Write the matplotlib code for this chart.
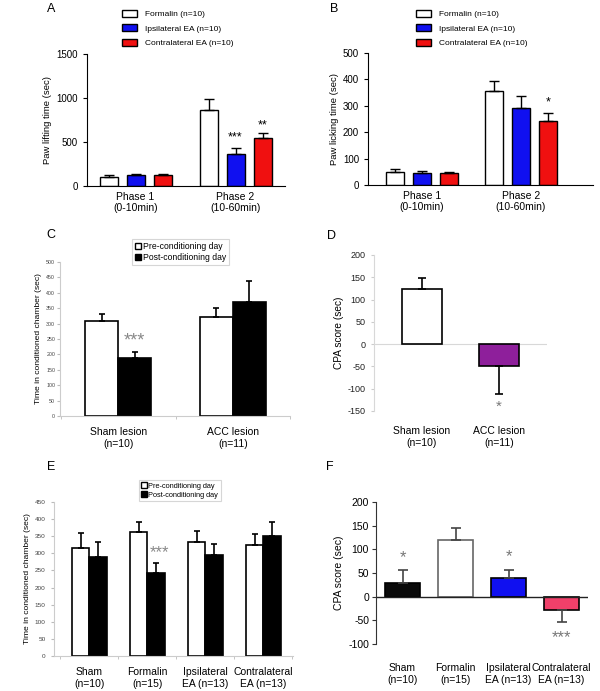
import numpy as np
import matplotlib.pyplot as plt
from matplotlib.lines import Line2D

plt.rcParams['font.family'] = ['Liberation Sans', 'DejaVu Sans']
plt.rcParams['axes.unicode_minus'] = False

# --- data ---
phases = ['Phase 1\n(0-10min)', 'Phase 2\n(10-60min)']
ab_groups = ['Formalin (n=10)', 'Ipsilateral EA (n=10)', 'Contralateral EA (n=10)']
ab_colors = ['white', '#1010f0', '#f01010']

lift_mean = [[105, 863], [130, 363], [128, 542]]
lift_err = [[15, 122], [12, 65], [12, 64]]
lift_stars = [(1, 1, '***', 557), (1, 2, '**', 693)]   # (phase, group, text, y)

lick_mean = [[50, 355], [47, 292], [44, 242]]
lick_err = [[9, 38], [6, 46], [7, 29]]
lick_stars = [(1, 2, '*', 311)]

cond_legend = ['Pre-conditioning day', 'Post-conditioning day']

c_groups = ['Sham lesion\n(n=10)', 'ACC lesion\n(n=11)']
c_pre = [307, 320]
c_pre_err = [25, 32]
c_post = [188, 370]
c_post_err = [19, 67]

d_score = [123, -48]
d_err = [25, 63]
d_colors = ['white', '#8e1f9b']

e_groups = ['Sham\n(n=10)', 'Formalin\n(n=15)', 'Ipsilateral\nEA (n=13)', 'Contralateral\nEA (n=13)']
e_pre = [317, 362, 332, 323]
e_pre_err = [41, 31, 33, 34]
e_post = [289, 243, 296, 350]
e_post_err = [44, 30, 32, 43]

f_score = [28, 120, 39, -28]
f_err = [29, 26, 18, 26]
f_colors = ['#0a0a0a', 'white', '#1010f0', '#f0406a']
f_edges = ['black', '#666666', 'black', 'black']
f_stars = [(0, '*', 82), (2, '*', 84), (3, '***', -86)]

W, H = 600, 691
fig = plt.figure(figsize=(6, 6.91), dpi=100)


def px_axes(l, t, r, b):
    return fig.add_axes([l / W, 1 - b / H, (r - l) / W, (b - t) / H])


def one_sided(vals, errs):
    vals = np.asarray(vals, float)
    errs = np.asarray(errs, float)
    lo = np.where(vals < 0, errs, 0)
    hi = np.where(vals >= 0, errs, 0)
    return [lo, hi]


# --- A and B: formalin test ---
def phase_panel(box, means, errs, ymax, ystep, ylabel, stars, xlim, leg_xy):
    ax = px_axes(*box)
    x = np.arange(len(phases))
    for i in range(3):
        ax.bar(x + (i - 1) * 0.27, means[i], 0.18, color=ab_colors[i], edgecolor='black',
               lw=1, yerr=one_sided(means[i], errs[i]), capsize=3.3,
               error_kw=dict(lw=1, capthick=1), label=ab_groups[i])
    for p, g, s, y in stars:
        ax.text(p + (g - 1) * 0.27, y, s, ha='center', va='center', fontsize=9)
    ax.set_ylim(0, ymax)
    ax.set_yticks(np.arange(0, ymax + 1, ystep))
    ax.set_xlim(*xlim)
    ax.set_xticks(x, phases)
    ax.tick_params(axis='x', length=0, pad=4, labelsize=7.5)
    ax.tick_params(axis='y', length=3, labelsize=7)
    for s in ['top', 'right']:
        ax.spines[s].set_visible(False)
    ax.set_ylabel(ylabel, fontsize=6.8, labelpad=3)
    ax.legend(loc='upper left', bbox_to_anchor=(leg_xy[0] / W, 1 - leg_xy[1] / H),
              bbox_transform=fig.transFigure, frameon=False, fontsize=6,
              handlelength=1.8, handleheight=0.85, labelspacing=0.75,
              handletextpad=1.0, borderpad=0, borderaxespad=0)
    return ax


phase_panel((87, 54, 285, 186), lift_mean, lift_err, 1500, 500,
            'Paw lifting time (sec)', lift_stars, (-0.485, 1.495), (122, 10))
phase_panel((368, 53, 593, 185), lick_mean, lick_err, 500, 100,
            'Paw licking time (sec)', lick_stars, (-0.545, 1.727), (416, 10))


# --- C and E: conditioning chamber time ---
def cond_panel(box, groups, pre, pre_err, post, post_err, ymax, tick_fs, tick_pad,
               xlim, leg_xy, leg_fs, width):
    ax = px_axes(*box)
    x = np.arange(len(groups))
    ax.bar(x - width / 2, pre, width, color='white', edgecolor='black', lw=1.2,
           yerr=one_sided(pre, pre_err), capsize=2.5, error_kw=dict(lw=1.2, capthick=1.2))
    ax.bar(x + width / 2, post, width, color='black', edgecolor='black', lw=1.2,
           yerr=one_sided(post, post_err), capsize=2.5, error_kw=dict(lw=1.2, capthick=1.2))
    ax.set_ylim(0, ymax)
    ax.set_yticks(np.arange(0, ymax + 1, 50))
    ax.set_xlim(*xlim)
    ax.set_xticks(x, groups)
    ax.set_xticks(np.arange(len(groups) + 1) - 0.5, minor=True)
    ax.tick_params(axis='x', which='major', length=0, pad=8, labelsize=7.5)
    ax.tick_params(axis='x', which='minor', length=2.5, color='#bbbbbb')
    ax.tick_params(axis='y', length=2, color='#bbbbbb', labelsize=tick_fs,
                   labelcolor='#444444', pad=tick_pad)
    for s in ['top', 'right']:
        ax.spines[s].set_visible(False)
    for s in ['left', 'bottom']:
        ax.spines[s].set_color('#cccccc')
        ax.spines[s].set_linewidth(0.8)
    handles = [Line2D([], [], ls='none', marker='s', ms=5, mfc='white', mec='black', mew=1),
               Line2D([], [], ls='none', marker='s', ms=5, mfc='black', mec='black')]
    leg = ax.legend(handles, cond_legend, loc='upper left',
                    bbox_to_anchor=(leg_xy[0] / W, 1 - leg_xy[1] / H),
                    bbox_transform=fig.transFigure, fontsize=leg_fs, fancybox=False,
                    handlelength=0.6, handletextpad=0.3, labelspacing=0.25,
                    borderpad=0.35, borderaxespad=0)
    leg.get_frame().set_edgecolor('#cccccc')
    leg.get_frame().set_linewidth(0.8)
    ax.set_ylabel('Time in conditioned chamber (sec)', fontsize=6.1, labelpad=3)
    return ax


ax_c = cond_panel((60, 262, 290, 416), c_groups, c_pre, c_pre_err, c_post, c_post_err,
                  500, 3.8, 1.5, (-0.51, 1.44), (132, 239), 6.2, 0.288)
ax_c.text(0.144, 242, '***', ha='center', va='center', fontsize=13, color='#888888')

ax_e = cond_panel((54, 502, 293, 656), e_groups, e_pre, e_pre_err, e_post, e_post_err,
                  450, 4.6, 4, (-0.61, 3.51), (139, 480), 5.3, 0.3)
ax_e.text(1.2, 302, '***', ha='center', va='center', fontsize=12, color='#888888')

# --- D: CPA score, lesion ---
ax_d = px_axes(374, 255, 547, 411)
xd = np.arange(len(c_groups))
ax_d.bar(xd, d_score, 0.52, color=d_colors, edgecolor='black', lw=1.2,
         yerr=one_sided(d_score, d_err), capsize=3, error_kw=dict(lw=1.2, capthick=1.2))
ax_d.axhline(0, color='#d8d8d8', lw=0.8, zorder=0)
ax_d.text(1, -141, '*', ha='center', va='center', fontsize=11, color='#777777')
ax_d.set_ylim(-150, 200)
ax_d.set_yticks(np.arange(-150, 201, 50))
ax_d.set_xlim(-0.62, 1.62)
ax_d.set_xticks(xd, c_groups)
ax_d.tick_params(axis='x', length=0, pad=11, labelsize=7.5)
ax_d.tick_params(axis='y', length=2, color='#cccccc', labelsize=6.5, labelcolor='#222222', pad=4)
for s in ['top', 'right', 'bottom']:
    ax_d.spines[s].set_visible(False)
ax_d.spines['left'].set_color('#d8d8d8')
ax_d.spines['left'].set_linewidth(0.8)
ax_d.set_ylabel('CPA score (sec)', fontsize=7.3, labelpad=3)

# --- F: CPA score, EA ---
ax_f = px_axes(376, 502, 588, 644)
xf = np.arange(len(e_groups))
ax_f.bar(xf, f_score, 0.66, color=f_colors, edgecolor=f_edges, lw=1.2,
         yerr=one_sided(f_score, f_err), capsize=3.5,
         error_kw=dict(lw=1.2, capthick=1.2, ecolor='#444444'))
ax_f.axhline(0, color='#222222', lw=1)
for i, s, y in f_stars:
    ax_f.text(i, y, s, ha='center', va='center', fontsize=12, color='#777777')
ax_f.set_ylim(-100, 200)
ax_f.set_yticks(np.arange(-100, 201, 50))
ax_f.set_xlim(-0.5, 3.5)
ax_f.set_xticks(xf, e_groups)
ax_f.tick_params(axis='x', length=0, pad=14, labelsize=7.5)
ax_f.tick_params(axis='y', length=3, color='#333333', labelsize=7.5, pad=2)
for s in ['top', 'right', 'bottom']:
    ax_f.spines[s].set_visible(False)
ax_f.spines['left'].set_color('#333333')
ax_f.set_ylabel('CPA score (sec)', fontsize=7.5, labelpad=3)

# --- panel letters ---
for lab, (x, y) in zip('ABCDEF', [(51, 9), (334, 9), (51, 235), (332, 236), (51, 467), (330, 467)]):
    fig.text(x / W, 1 - y / H, lab, ha='center', va='center', fontsize=9)

fig.savefig('out.png', dpi=100)
